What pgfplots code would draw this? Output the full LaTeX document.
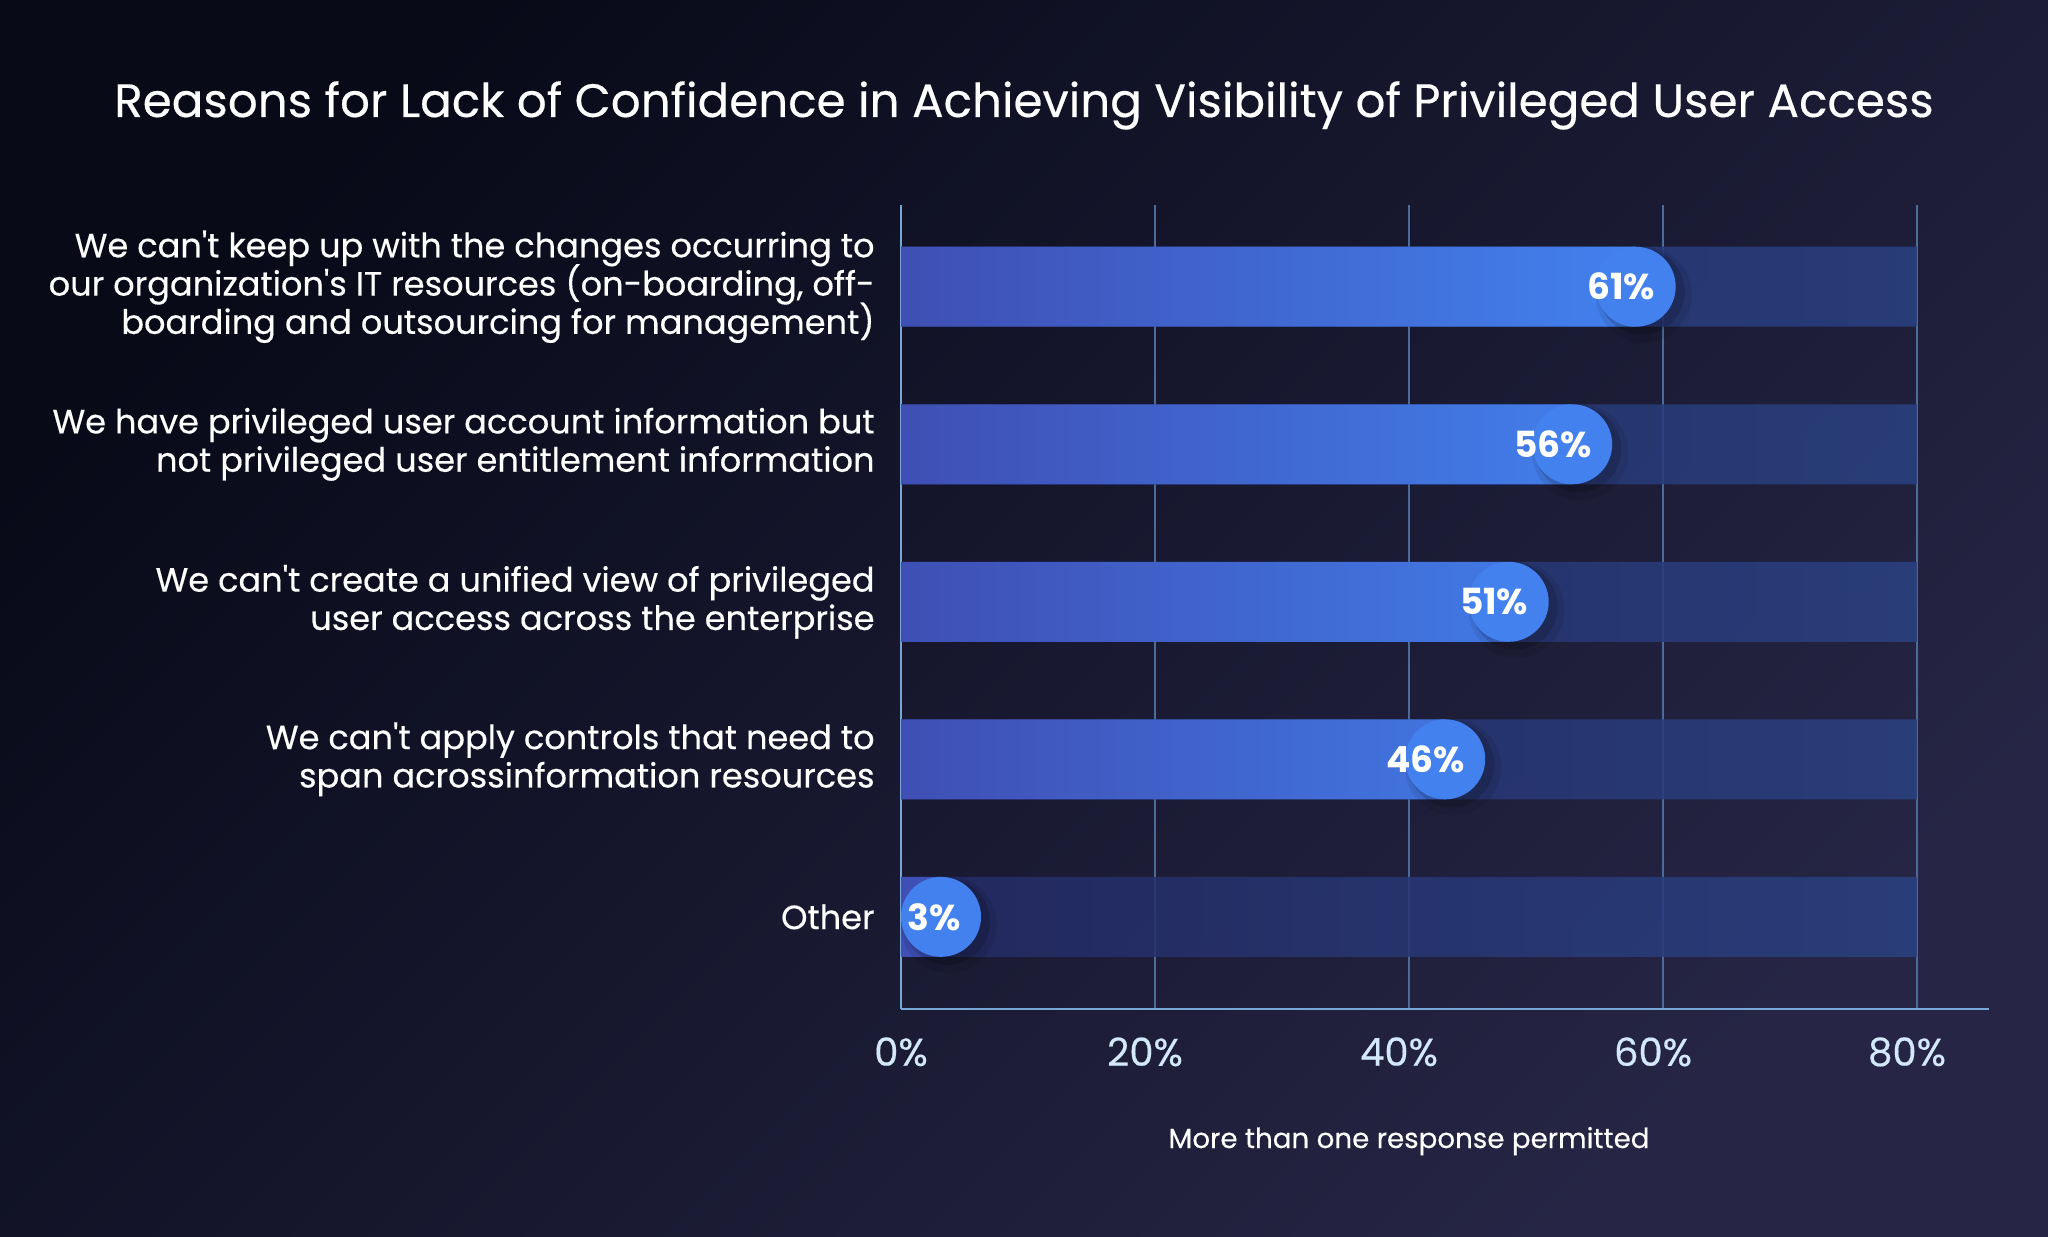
\documentclass[border=0pt]{standalone}
\usepackage{pgfplots}
\pgfplotsset{compat=1.18}
\usepackage{fontspec}
\setmainfont{Poppins}[FakeBold=0.35]
\newfontfamily\valfont{Poppins}
\newcommand{\ap}{\textquotesingle}
\newcommand{\pad}{\hspace*{10pt}\null}

\definecolor{bgA}{HTML}{080A18}
\definecolor{bgB}{HTML}{262545}
\definecolor{trackL}{HTML}{242B64}
\definecolor{trackR}{HTML}{2A4181}
\definecolor{barL}{HTML}{3F4FB4}
\definecolor{barR}{HTML}{4281EE}
\definecolor{gridc}{HTML}{4B6C98}
\definecolor{axisc}{HTML}{78A6D6}
\definecolor{tickc}{HTML}{D3E8FB}

\begin{document}
\lineskiplimit=-100pt
\begin{tikzpicture}
\shade[shading=axis, top color=bgA, bottom color=bgB, shading angle=45] (0,0) rectangle (1024pt,618pt);
\node[anchor=base, text=white, inner sep=0pt, font=\fontsize{23.4}{28}\selectfont] at (512pt,559.5pt)
  {Reasons for Lack of Confidence in Achieving Visibility of Privileged User Access};

\begin{axis}[
  at={(450.5pt,113.5pt)}, anchor=south west,
  scale only axis, width=544pt, height=402pt,
  xmin=0, xmax=85.67, ymin=-0.585, ymax=4.519,
  axis x line=bottom, axis y line=left,
  axis line style={-, draw=axisc, line width=1.4pt},
  xtick={0,20,40,60,80},
  xticklabels={0\%,20\%\pad,40\%\pad,60\%\pad,80\%\pad},
  ytick={0,1,2,3,4},
  yticklabels={
    {Other},
    {We can\ap t apply controls that need to\\span acrossinformation resources},
    {We can\ap t create a unified view of privileged\\user access across the enterprise},
    {We have privileged user account information but\\not privileged user entitlement information},
    {We can\ap t keep up with the changes occurring to\\our organization\ap s IT resources (on-boarding, off-\\boarding and outsourcing for management)}
  },
  major tick length=0pt,
  xmajorgrids,
  major grid style={draw=gridc, line width=0.8pt},
  xticklabel style={text=tickc, font=\fontsize{19.3}{23}\selectfont, inner sep=0pt, yshift=-14pt},
  yticklabel style={text=white, align=right, inner sep=0pt, xshift=-13pt,
    font=\fontsize{16.8}{19.15}\selectfont},
]
% background tracks
\addplot[xbar, bar shift=0pt, bar width=40pt, draw=none, left color=trackL, right color=trackR, fill opacity=0.88]
  coordinates {(80,0) (80,1) (80,2) (80,3) (80,4)};
% soft shadows behind the caps
\addplot[only marks, mark=*, mark size=24pt, color=black, mark options={fill=black, fill opacity=0.08, draw opacity=0},
  x filter/.expression={max(x-3.15,3.15)}, xshift=4pt, yshift=-4pt]
  coordinates {(61,4) (56,3) (51,2) (46,1) (3,0)};
\addplot[only marks, mark=*, mark size=21.5pt, color=black, mark options={fill=black, fill opacity=0.14, draw opacity=0},
  x filter/.expression={max(x-3.15,3.15)}, xshift=3pt, yshift=-2.5pt]
  coordinates {(61,4) (56,3) (51,2) (46,1) (3,0)};
% value bars
\addplot[xbar, bar shift=0pt, bar width=40pt, draw=none, left color=barL, right color=barR,
  x filter/.expression={max(x-3.15,3.15)}]
  coordinates {(61,4) (56,3) (51,2) (46,1) (3,0)};
% rounded caps and labels
\addplot[only marks, mark=*, mark size=20pt, color=barR, mark options={draw=barR, fill=barR, draw opacity=0},
  x filter/.expression={max(x-3.15,3.15)},
  point meta=explicit symbolic, nodes near coords,
  every node near coord/.append style={anchor=east, xshift=10pt, text=white, inner sep=0pt,
    font=\valfont\bfseries\fontsize{18}{20}\selectfont}]
  coordinates {(61,4) [61\%] (56,3) [56\%] (51,2) [51\%] (46,1) [46\%] (3,0) [3\%]};
\end{axis}

\node[anchor=base, text=white, inner sep=0pt, font=\fontsize{13.85}{16}\selectfont] at (704.5pt,44pt)
  {More than one response permitted};
\end{tikzpicture}
\end{document}
